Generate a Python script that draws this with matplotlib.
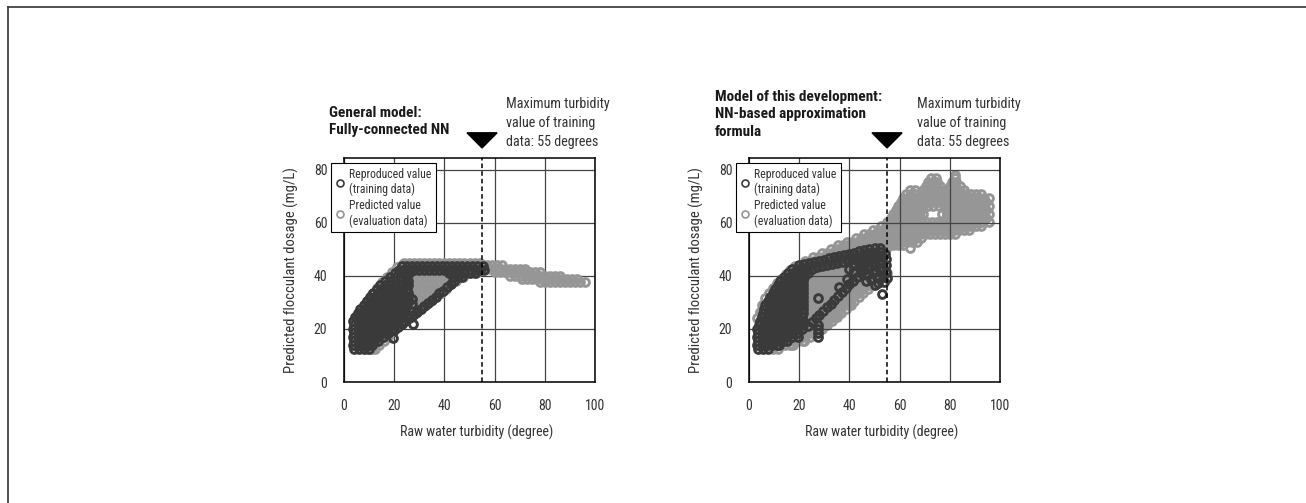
import numpy as np
import matplotlib
matplotlib.use('Agg')
import matplotlib.pyplot as plt
from matplotlib.lines import Line2D

plt.rcParams['font.family'] = ['Roboto Condensed', 'Liberation Sans Narrow',
                               'Noto Sans CJK JP', 'DejaVu Sans']

# ---- data: (dosage, [turbidity, ...]) rows + loose points ----
left_train_rows = [
    (12.5, [4, 6, 8, 10]),
    (14.0, [3.5, 5.5, 7.5, 9.5, 11]),
    (15.5, [4, 6, 8, 10, 12, 13.5]),
    (17.0, [3.5, 5.5, 7.5, 9.5, 11.5, 13.5, 15.5]),
    (18.5, [4, 6, 8, 10, 12, 14, 16, 17.5]),
    (20.0, [3.5, 5.5, 7.5, 9.5, 11.5, 13.5, 15.5, 17.5, 19]),
    (21.5, [4, 6, 8, 10, 12, 14, 16, 18, 20]),
    (23.0, [3.5, 5.5, 7.5, 9.5, 11.5, 13.5, 15.5, 17.5, 19.5, 21.5]),
    (24.5, [4.5, 6.5, 8.5, 10.5, 12.5, 14.5, 16.5, 18.5, 20.5, 22.5]),
    (26.0, [5.5, 7.5, 9.5, 11.5, 13.5, 15.5, 17.5, 19.5, 21.5, 23.5]),
    (27.5, [6.5, 8.5, 10.5, 12.5, 14.5, 16.5, 18.5, 20.5, 22.5, 24.5]),
    (29.0, [8, 10, 12, 14, 16, 18, 20, 22, 24, 25]),
    (30.5, [9, 11, 13, 15, 17, 19, 21, 23, 25]),
    (32.0, [10.5, 12.5, 14.5, 16.5, 18.5, 20.5, 22.5, 24.5, 25.5]),
    (33.5, [11.5, 13.5, 15.5, 17.5, 19.5, 21.5, 23.5, 25.5]),
    (35.0, [13, 15, 17, 19, 21, 23, 25]),
    (36.5, [14.5, 16.5, 18.5, 20.5, 22.5, 24.5, 25.5]),
    (38.0, [16.5, 18.5, 20.5, 22.5, 24.5, 25.5]),
    (39.5, [18.5, 20.5, 22.5, 24.5, 43.5, 45.5, 47]),
    (41.0, [20.5, 22.5, 24.5, 26, 42, 44, 46, 48, 50, 52]),
    (42.2, [22, 24, 26, 28, 30, 32, 34, 36, 38, 40, 42, 44, 46, 48, 50, 52, 54, 55.7]),
    (43.6, [23, 25, 27, 29, 31, 33, 35, 37, 39, 41, 43, 45, 47, 49, 51, 53, 55.3]),
]
left_train_pts = [
    (19.7, 16.5), (20, 19.5), (21.5, 20.7), (23, 21.8), (24.5, 23), (26, 24.2),
    (27.5, 25.3), (29, 26.5), (30.5, 27.6), (32, 28.8), (33.5, 29.9), (35, 31.1),
    (36.5, 32.2), (38, 33.4), (39.5, 34.5), (41, 35.7), (42.5, 36.8), (44, 38),
    (27.5, 21.9), (27.1, 31.2), (27.0, 29.6),
]

left_eval_rows = [
    (12.5, [9, 11, 12.5]),
    (14.0, [10, 12, 14]),
    (15.5, [12, 14, 16]),
    (17.0, [14, 16, 17.5]),
    (18.5, [16, 18.5]),
    (20.0, [17, 19, 20.5]),
    (21.5, [18, 20, 22]),
    (23.0, [19, 21, 23, 24.5]),
    (24.5, [20.5, 22.5, 24.5, 26.5]),
    (26.0, [21.5, 23.5, 25.5, 27.5, 28.5]),
    (27.5, [22.5, 24.5, 26.5, 28.5, 30.5]),
    (29.0, [23.5, 25.5, 27.5, 29.5, 31.5, 32.5]),
    (30.5, [24.5, 26.5, 28.5, 30.5, 32.5, 34.5]),
    (32.0, [25, 27, 29, 31, 33, 35, 36.5]),
    (33.5, [25, 27, 29, 31, 33, 35, 37, 38.5]),
    (35.0, [25, 27, 29, 31, 33, 35, 37, 39, 40.5]),
    (36.5, [26, 28, 30, 32, 34, 36, 38, 40, 42]),
    (38.0, [26, 28, 30, 32, 34, 36, 38, 40, 42, 44.5]),
    (39.5, [26, 28, 30, 32, 34, 36, 38, 40, 42, 44, 46, 47.5]),
    (41.0, [26, 28, 30, 32, 34, 36, 38, 40, 42, 44, 46, 48, 50, 52.5]),
    (44.8, [24, 26, 28, 30, 32, 34, 36, 38, 40, 42, 44, 46, 48, 50, 52, 54]),
    # tail beyond the training range
    (44.0, [55, 57, 59, 61, 63]),
    (42.7, [56, 58, 60, 62, 64, 66, 68, 70, 72]),
    (41.4, [60, 62, 64, 66, 68, 70, 72, 74, 76, 78]),
    (40.1, [66, 68, 70, 72, 74, 76, 78, 80, 82, 84, 86]),
    (38.8, [71, 73, 75, 77, 79, 81, 83, 85, 87, 89, 91, 93]),
    (37.7, [78, 80, 82, 84, 86, 88, 90, 92, 94, 96]),
]
left_eval_pts = [
    (5, 24.5), (7, 27.5), (9, 30.5), (11, 33.2), (13, 35.4), (15, 37.6),
    (17, 39.6), (19, 41.6), (21, 43.2), (23, 44.3),
]

right_train_rows = [
    (12.5, [3.5, 5.5, 7.5]),
    (14.0, [3, 5, 7, 9, 11, 12]),
    (15.5, [3.5, 5.5, 7.5, 9.5, 11.5, 13.5, 15]),
    (17.0, [3, 5, 7, 9, 11, 13, 15, 17, 19.7, 27.6]),
    (18.5, [3.5, 5.5, 7.5, 9.5, 11.5, 13.5, 15.5, 17.5, 19.7, 27.6]),
    (20.0, [3, 5, 7, 9, 11, 13, 15, 17, 19, 21, 27.6]),
    (21.5, [4, 6, 8, 10, 12, 14, 16, 18, 20, 21.5, 27.6]),
    (23.0, [4.5, 6.5, 8.5, 10.5, 12.5, 14.5, 16.5, 18.5, 20.5, 21.5]),
    (24.5, [5, 7, 9, 11, 13, 15, 17, 19, 21]),
    (26.0, [5.5, 7.5, 9.5, 11.5, 13.5, 15.5, 17.5, 19.5, 21.5]),
    (27.5, [6, 8, 10, 12, 14, 16, 18, 20, 21.5]),
    (29.0, [6.5, 8.5, 10.5, 12.5, 14.5, 16.5, 18.5, 20.5, 21.5]),
    (30.5, [7.5, 9.5, 11.5, 13.5, 15.5, 17.5, 19.5, 21.5]),
    (32.0, [8.5, 10.5, 12.5, 14.5, 16.5, 18.5, 20.5, 21.5]),
    (33.5, [9.5, 11.5, 13.5, 15.5, 17.5, 19.5, 21.5]),
    (35.0, [10.5, 12.5, 14.5, 16.5, 18.5, 20.5, 21.5]),
    (36.5, [11.5, 13.5, 15.5, 17.5, 19.5, 21.5]),
    (38.0, [12.5, 14.5, 16.5, 18.5, 20.5, 21.5]),
    (39.5, [14, 16, 18, 20, 22]),
    (41.0, [15.5, 17.5, 19.5, 21.5, 23.5]),
    (42.5, [17, 19, 21]),
]
right_train_pts = [
    # upper arm
    (20, 44.2), (22, 44.6), (24, 45), (26, 45.4), (28, 45.8), (30, 46.2), (32, 46.6),
    (34, 47), (36, 47.4), (38, 47.8), (40, 48.3), (42, 48.8), (44, 49.3), (46, 49.8),
    (48, 50.3), (50, 50.7), (52, 50.6),
    (21, 42.2), (23, 42.4), (25, 42.8), (27, 43.3), (29, 43.7), (31, 44.1), (33, 44.6),
    (35, 45), (37, 45.4), (39, 45.9), (41, 46.3), (43, 46.8), (45, 47.3), (47, 47.8),
    (49, 48.3),
    # spur near 55 degrees
    (52.5, 49.2), (54.2, 48.4), (52.8, 47), (54.4, 46.3), (53, 44.8), (54.6, 44),
    (53.2, 42.5), (54.6, 41.6), (53.4, 40.2), (54.8, 39.3), (53.8, 37.8), (52.8, 33.3),
    # chain
    (23.5, 21.2), (25, 22.6), (26.5, 24), (28, 25.4), (29.5, 26.8), (31, 28.2),
    (32.5, 29.6), (34, 31), (35.5, 32.4), (37, 33.8), (38.5, 35.3), (40, 36.8),
    (41.5, 38.2), (43, 39.6), (44.5, 41), (46, 42.4), (47.5, 43.7), (49, 45),
    (36, 36), (39, 39), (42, 41.5), (45, 44), (48, 46.2), (50, 44.5), (50.5, 42),
    (51, 39.5), (49.5, 41), (47, 40.5), (27.6, 31.5),
    # dense patch between the chain and the spur
    (44, 43.5), (46, 44.5), (48, 43.5), (50, 46.5), (51.5, 48), (46, 46), (44, 45.8),
    (42, 44), (40, 42.5), (42, 46.5), (48, 48.5), (50, 48.8), (52, 45.5), (52, 43),
    (48.5, 39), (46.5, 38.2), (51.5, 37.5), (50, 36.5),
]

right_eval_rows = [
    (12.5, [9.5, 11.5]),
    (14.0, [12.5, 14.5, 16.5, 17.5]),
    (15.5, [15.5, 17.5, 19.5, 21.5, 22]),
    (17.0, [18.5, 20.5, 22.5, 24.5]),
    (18.5, [21, 23, 25, 26.5]),
    (20.0, [21.5, 23.5, 25.5, 27.5, 29]),
    (21.5, [22, 24, 26, 28, 30, 31]),
    (23.0, [21.5, 23.5, 25.5, 27.5, 29.5, 31.5, 33]),
    (24.5, [22, 24, 26, 28, 30, 32, 34, 35]),
    (26.0, [21.5, 23.5, 25.5, 27.5, 29.5, 31.5, 33.5, 35.5, 36.5]),
    (27.5, [22, 24, 26, 28, 30, 32, 34, 36, 38.5]),
    (29.0, [21.5, 23.5, 25.5, 27.5, 29.5, 31.5, 33.5, 35.5, 37.5, 39.5, 40.5]),
    (30.5, [22, 24, 26, 28, 30, 32, 34, 36, 38, 40, 42]),
    (32.0, [21.5, 23.5, 25.5, 27.5, 29.5, 31.5, 33.5, 35.5, 37.5, 39.5, 41.5, 44]),
    (33.5, [22, 24, 26, 28, 30, 32, 34, 36, 38, 40, 42, 44, 45.5]),
    (35.0, [21.5, 23.5, 25.5, 27.5, 29.5, 31.5, 33.5, 35.5, 37.5, 39.5, 41.5, 43.5, 45.5, 47.5]),
    (36.5, [22, 24, 26, 28, 30, 32, 34, 36, 38, 40, 42, 44, 46, 48, 49.5]),
    (38.0, [21.5, 23.5, 25.5, 27.5, 29.5, 31.5, 33.5, 35.5, 37.5, 39.5, 41.5, 43.5, 45.5, 47.5, 49.5, 51.5]),
    (39.5, [22, 24, 26, 28, 30, 32, 34, 36, 38, 40, 42, 44, 46, 48, 50, 52, 53.5]),
    (41.0, [23, 25, 27, 29, 31, 33, 35, 37, 39, 41, 43, 45, 47, 49, 51, 53, 55]),
    (42.5, [26, 28, 30, 32, 34, 36, 38, 40, 42, 44, 46, 48, 50, 52, 54]),
    (44.0, [31, 33, 35, 37, 39, 41, 43, 45, 47, 49, 51]),
    (45.5, [22.5, 24.5, 38, 40, 42, 44, 46]),
    (47.0, [25.5, 27.5, 29.5, 31.5]),
    (48.5, [29, 31, 33, 35, 37]),
    (50.0, [32.5, 34.5, 36.5, 38.5, 40.5, 42.5, 44.5, 46.5, 48.5, 50.5, 52.5, 54.5]),
    (51.5, [35.5, 37.5, 39.5, 41.5, 43.5, 45.5, 47.5, 49.5, 51.5, 53.5, 55.5, 57.5, 59.5, 61.5]),
    (53.0, [39, 41, 43, 45, 47, 49, 51, 53, 55, 57, 59, 61, 63, 65, 67]),
    (54.5, [42.5, 44.5, 46.5, 48.5, 50.5, 52.5, 54.5, 56.5, 58.5, 60.5, 62.5, 64.5, 66.5, 68.5]),
    (56.0, [46, 48, 50, 52, 54, 56, 58, 60, 62, 64, 66, 68, 70, 72, 74, 76, 78, 80, 82]),
    (57.5, [49.5, 51.5, 53.5, 55.5, 57.5, 59.5, 61.5, 63.5, 65.5, 67.5, 69.5, 71.5, 73.5,
            75.5, 77.5, 79.5, 81.5, 83.5, 85.5, 87.5]),
    (59.0, [52.5, 54.5, 56.5, 58.5, 60.5, 62.5, 64.5, 66.5, 68.5, 70.5, 72.5, 74.5, 76.5,
            78.5, 80.5, 82.5, 84.5, 86.5, 88.5, 90.5, 92.5]),
    (60.5, [55, 57, 59, 61, 63, 65, 67, 69, 71, 73, 75, 77, 79, 81, 83, 85, 87, 89, 91, 93, 95.5]),
    (62.0, [56.5, 58.5, 60.5, 62.5, 64.5, 66.5, 68.5, 78.5, 80.5, 82.5, 84.5, 86.5, 88.5,
            90.5, 92.5, 94.5]),
    (63.5, [57.5, 59.5, 61.5, 63.5, 65.5, 67.5, 69.5, 77, 79, 81, 83, 85, 87, 89, 91, 93, 95.5]),
    (65.0, [58.5, 60.5, 62.5, 64.5, 66.5, 68.5, 78.5, 80.5, 82.5, 84.5, 86.5, 88.5, 90.5,
            92.5, 94.5]),
    (66.5, [59.5, 61.5, 63.5, 65.5, 67.5, 69.5, 71.5, 73.5, 75.5, 77.5, 79.5, 81.5, 83.5,
            85.5, 87.5, 89.5, 91.5, 93.5, 95.5]),
    (68.0, [60.5, 62.5, 64.5, 66.5, 68.5, 70.5, 72.5, 74.5, 76.5, 78.5, 80.5, 82.5, 84.5,
            86.5, 88.5, 90.5, 92.5, 94.5]),
    (69.5, [61.5, 63.5, 65.5, 67.5, 69.5, 71.5, 73.5, 75.5, 77.5, 79.5, 81.5, 83.5, 85.5,
            87.5, 89.5, 91.5, 93.5, 95.5]),
    (71.0, [62.5, 64.5, 66.5, 68.5, 70.5, 72.5, 74.5, 76.5, 78.5, 80.5, 82.5, 84.5, 86.5,
            88.5, 90.5, 92.5]),
    (72.5, [64, 66, 69.5, 71.5, 73.5, 75.5, 77.5, 79.5, 81.5, 83.5, 85.5]),
    (74.0, [70.5, 72.5, 74.5, 76, 80, 82, 84]),
    (75.5, [71.5, 73.5, 75, 81, 82.5]),
    (77.0, [72.5, 74.5, 82]),
]
right_eval_pts = [
    (3.2, 24), (4.2, 26.5), (5.2, 29), (6.5, 31.5), (8, 33.5), (9.5, 35.5), (11, 37.3),
    (12.8, 39), (14.6, 40.8), (16.5, 42.3), (18.5, 43.8),
    (64, 50.6), (82.1, 78.1),
]

max_train_turbidity = 55
xticks = [0, 20, 40, 60, 80, 100]
yticks = [0, 20, 40, 60, 80]

dark = '#3a3a3a'
grey = '#969696'


def unpack(rows, pts):
    xs, ys = [], []
    for y, row in rows:
        xs.extend(row)
        ys.extend([y] * len(row))
    for x, y in pts:
        xs.append(x)
        ys.append(y)
    return np.array(xs, dtype=float), np.array(ys, dtype=float)


fig = plt.figure(figsize=(13.06, 5.03), dpi=100)

# page frame (top and left rule)
fig.add_artist(Line2D([8 / 1306, 1.0], [1 - 7 / 503, 1 - 7 / 503], color='#333333', lw=1.2))
fig.add_artist(Line2D([8 / 1306, 8 / 1306], [0, 1 - 7 / 503], color='#333333', lw=1.2))

panels = [
    (344, left_train_rows, left_train_pts, left_eval_rows, left_eval_pts, True),
    (749, right_train_rows, right_train_pts, right_eval_rows, right_eval_pts, False),
]
ms, mew = 5.6, 2.1
for px, tr_rows, tr_pts, ev_rows, ev_pts, grid_below in panels:
    ax = fig.add_axes([px / 1306, 121 / 503, 251 / 1306, 224 / 503])
    ex, ey = unpack(ev_rows, ev_pts)
    tx, ty = unpack(tr_rows, tr_pts)
    h_ev, = ax.plot(ex, ey, 'o', mfc='none', mec=grey, mew=mew, ms=ms, zorder=1)
    h_tr, = ax.plot(tx, ty, 'o', mfc='none', mec=dark, mew=mew, ms=ms, zorder=3)
    ax.set_xlim(0, 100)
    ax.set_ylim(0, 84.5)
    ax.set_xticks(xticks)
    ax.set_yticks(yticks)
    ax.grid(True, color='#444444', lw=0.9)
    for gl in ax.get_xgridlines() + ax.get_ygridlines():
        gl.set_zorder(0.5 if grid_below else 2)
    ax.set_axisbelow(grid_below)
    ax.tick_params(length=0, labelsize=10, colors='#333333')
    ax.tick_params(axis='y', pad=12)
    ax.tick_params(axis='x', pad=12)
    for sp in ax.spines.values():
        sp.set_color('black')
        sp.set_linewidth(1.1)
        sp.set_zorder(6)
    ax.axvline(max_train_turbidity, color='black', lw=1.1, ls=(0, (3, 2)), zorder=5)
    ax.fill([max_train_turbidity - 6, max_train_turbidity + 6, max_train_turbidity],
            [94, 94, 88.3], color='black', clip_on=False, zorder=7)
    ax.set_xlabel('Raw water turbidity (degree)', fontsize=10, color='#333333')
    ax.set_ylabel('Predicted flocculant dosage (mg/L)', fontsize=10.5, color='#333333')
    ax.xaxis.set_label_coords(0.53, -0.19)
    ax.yaxis.set_label_coords(-0.18, 0.5)
    leg = ax.legend([h_tr, h_ev],
                    ['Reproduced value\n(training data)', 'Predicted value\n(evaluation data)'],
                    loc='upper left', bbox_to_anchor=(-0.05, 0.978), borderaxespad=0,
                    fontsize=8.5, handlelength=0.6, handletextpad=0.5, borderpad=0.4,
                    labelspacing=0.25, fancybox=False, framealpha=1, edgecolor='black')
    leg.get_frame().set_linewidth(0.8)
    leg.set_zorder(8)
    for h in leg.legend_handles:
        h.set_markersize(5)
        h.set_markeredgewidth(1.2)
    for t in leg.get_texts():
        t.set_color('#333333')

fig.text(329 / 1306, 1 - 106 / 503, 'General model:\nFully-connected NN', fontsize=11,
         fontweight='bold', va='top', ha='left', color='#1a1a1a', linespacing=1.3)
fig.text(506 / 1306, 1 - 97 / 503, 'Maximum turbidity\nvalue of training\ndata: 55 degrees',
         fontsize=10.2, va='top', ha='left', color='#333333', linespacing=1.45)
fig.text(715 / 1306, 1 - 90 / 503,
         'Model of this development:\nNN-based approximation\nformula', fontsize=11,
         fontweight='bold', va='top', ha='left', color='#1a1a1a', linespacing=1.3)
fig.text(917 / 1306, 1 - 97 / 503, 'Maximum turbidity\nvalue of training\ndata: 55 degrees',
         fontsize=10.2, va='top', ha='left', color='#333333', linespacing=1.45)

fig.savefig('out.png', dpi=100)
